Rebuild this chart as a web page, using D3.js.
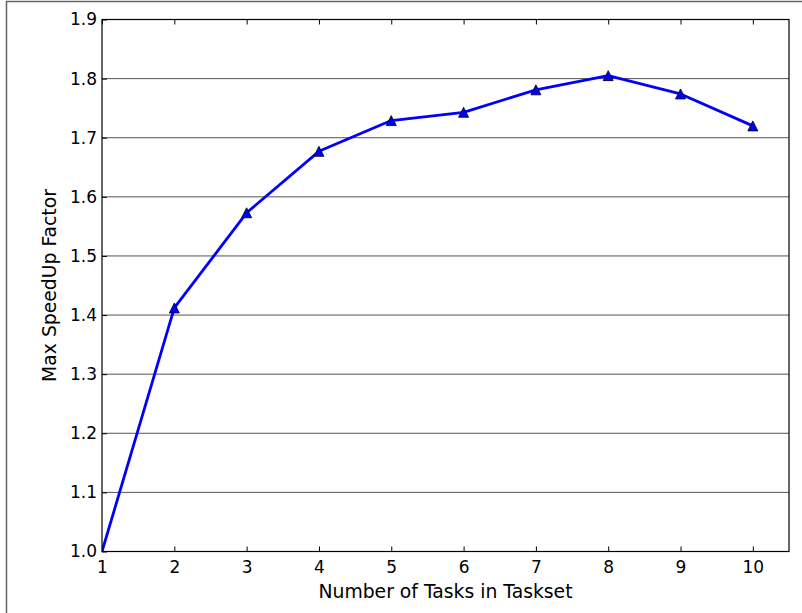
<!DOCTYPE html>
<html>
<head>
<meta charset="utf-8">
<script src="https://cdn.jsdelivr.net/npm/d3@7"></script>
<style>
  body { margin: 0; background: #fff; }
  svg { display: block; font-family: "DejaVu Sans", sans-serif; }
</style>
</head>
<body>
<svg id="chart" width="802" height="613"></svg>
<script>
// data
const tasks = [1, 2, 3, 4, 5, 6, 7, 8, 9, 10];
const speedup = [1.0, 1.412, 1.573, 1.677, 1.729, 1.743, 1.781, 1.805, 1.774, 1.720];
const xTicks = [1, 2, 3, 4, 5, 6, 7, 8, 9, 10];
const yTicks = [1.0, 1.1, 1.2, 1.3, 1.4, 1.5, 1.6, 1.7, 1.8, 1.9];

const svg = d3.select("#chart");
const plotL = 102, plotR = 789, plotT = 19.5, plotB = 551.5;

// outer frame
svg.append("path")
    .attr("d", "M6.5,613 L6.5,1.5 L802,1.5")
    .attr("fill", "none")
    .attr("stroke", "#666")
    .attr("stroke-width", 1.5);

const x = d3.scaleLinear().domain([1, 10.5]).range([plotL, plotR]);
const y = d3.scaleLinear().domain([1.0, 1.9]).range([plotB, plotT]);

svg.append("clipPath").attr("id", "plot-clip")
    .append("rect")
    .attr("x", plotL).attr("y", plotT)
    .attr("width", plotR - plotL).attr("height", plotB - plotT);

// horizontal grid
svg.append("g")
    .selectAll("line")
    .data(yTicks)
    .enter()
    .append("line")
    .attr("x1", plotL).attr("x2", plotR)
    .attr("y1", d => y(d)).attr("y2", d => y(d))
    .attr("stroke", "#555")
    .attr("stroke-width", 1);

// inward ticks top and bottom
const xAxisB = d3.axisBottom(x).tickValues(xTicks).tickSize(-5).tickPadding(9).tickFormat(d3.format("d"));
const gx = svg.append("g").attr("transform", "translate(0," + plotB + ")").call(xAxisB);
gx.select(".domain").remove();
gx.selectAll("line").attr("stroke", "#000");
gx.selectAll("text").attr("font-size", 17).attr("fill", "#000")
    .attr("font-family", "DejaVu Sans");

const xAxisT = d3.axisTop(x).tickValues(xTicks).tickSize(-5).tickFormat("");
const gxt = svg.append("g").attr("transform", "translate(0," + plotT + ")").call(xAxisT);
gxt.select(".domain").remove();
gxt.selectAll("line").attr("stroke", "#000");

const yAxis = d3.axisLeft(y).tickValues(yTicks).tickSize(-5).tickPadding(5).tickFormat(d3.format(".1f"));
const gy = svg.append("g").attr("transform", "translate(" + plotL + ",0)").call(yAxis);
gy.select(".domain").remove();
gy.selectAll("line").attr("stroke", "#000");
gy.selectAll("text").attr("font-size", 17).attr("fill", "#000")
    .attr("font-family", "DejaVu Sans");

// line
const line = d3.line()
    .x((d, i) => x(tasks[i]))
    .y(d => y(d));

svg.append("path")
    .datum(speedup)
    .attr("clip-path", "url(#plot-clip)")
    .attr("d", line)
    .attr("fill", "none")
    .attr("stroke", "#0000ff")
    .attr("stroke-width", 2.8)
    .attr("stroke-linejoin", "round");

// markers (point on the corner gets clipped away)
svg.append("g")
    .selectAll("path")
    .data(speedup.map((v, i) => [tasks[i], v]).filter(d => d[0] > 1))
    .enter()
    .append("path")
    .attr("d", "M0,-5L5,5L-5,5Z")
    .attr("transform", d => "translate(" + x(d[0]) + "," + y(d[1]) + ")")
    .attr("fill", "#0000ff")
    .attr("stroke", "#000")
    .attr("stroke-width", 0.8);

// spines
svg.append("rect")
    .attr("x", plotL).attr("y", plotT)
    .attr("width", plotR - plotL).attr("height", plotB - plotT)
    .attr("fill", "none")
    .attr("stroke", "#000")
    .attr("stroke-width", 1.2);

// labels
svg.append("text")
    .attr("x", (plotL + plotR) / 2)
    .attr("y", 598)
    .attr("text-anchor", "middle")
    .attr("font-size", 18.8)
    .text("Number of Tasks in Taskset");

svg.append("text")
    .attr("transform", "translate(56," + ((plotT + plotB) / 2) + ") rotate(-90)")
    .attr("text-anchor", "middle")
    .attr("font-size", 18.8)
    .text("Max SpeedUp Factor");
</script>
</body>
</html>
